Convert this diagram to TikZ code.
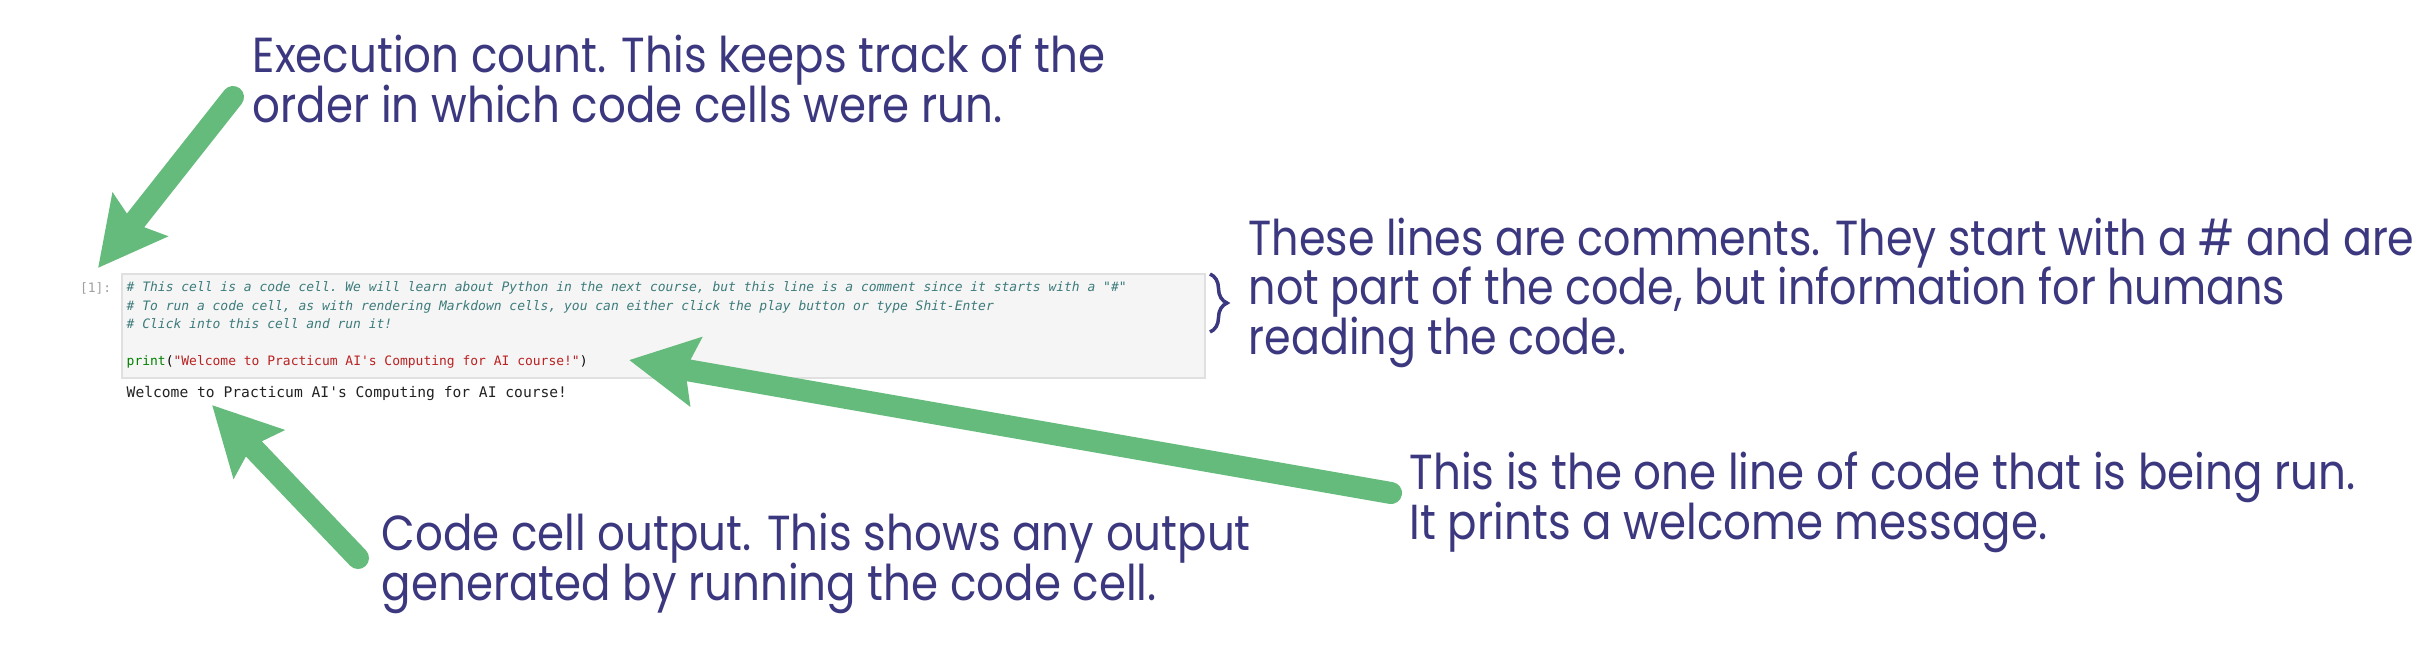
\documentclass[tikz,border=0pt]{standalone}
\usepackage{fontspec}
\setmainfont{Poppins}[FakeStretch=0.885]
\newfontfamily\tnarrow{Poppins}[FakeStretch=0.87]
\setmonofont{DejaVu Sans Mono}
\usetikzlibrary{arrows.meta,decorations.pathreplacing}
\definecolor{txt}{HTML}{3C3880}
\definecolor{grn}{HTML}{65BB7B}
\definecolor{cmt}{HTML}{3D7B7B}
\definecolor{kw}{HTML}{008000}
\definecolor{strc}{HTML}{BA2121}
\definecolor{cellbg}{HTML}{F5F5F5}
\definecolor{cellbd}{HTML}{E0E0E0}
\definecolor{prompt}{HTML}{A0A0A0}
\definecolor{outc}{HTML}{222222}
\newcommand\tightlines{\lineskiplimit=-50pt\relax\lineskip=0pt\relax}
\tikzset{
  note/.style={text=txt, font=\fontsize{14pt}{13.95pt}\selectfont\tightlines, align=left, anchor=base west, inner sep=0pt},
  pointer/.style={draw=grn, fill=grn, line width=0.22cm, line cap=round, -{Stealth[length=0.67cm,width=0.68cm,inset=0.1cm]}},
  codetxt/.style={font=\ttfamily\fontsize{3.69pt}{5.21pt}\selectfont\tightlines, align=left, anchor=base west, inner sep=0pt},
  cellbox/.style={fill=cellbg, draw=cellbd, line width=0.02cm, inner sep=0pt},
}
\begin{document}
\begin{tikzpicture}[x=0.01cm, y=-0.01cm]
\useasboundingbox[fill=white] (0,0) rectangle (2427,657);
\node[cellbox, anchor=north west, minimum width=10.82cm, minimum height=1.04cm] (cell) at (121,273) {};
\node[codetxt, text=prompt, anchor=base east] (count) at (112,292) {[1]:};
\node[codetxt] (code) at (126,365) {\textcolor{cmt}{\itshape \# This cell is a code cell. We will learn about Python in the next course, but this line is a comment since it starts with a "\#"}\\
\textcolor{cmt}{\itshape \# To run a code cell, as with rendering Markdown cells, you can either click the play button or type Shit-Enter}\\
\textcolor{cmt}{\itshape \# Click into this cell and run it!}\\
\mbox{}\\
\textcolor{kw}{print}(\textcolor{strc}{"Welcome to Practicum AI's Computing for AI course!"})};
\node[codetxt, text=outc, font=\ttfamily\fontsize{4.16pt}{5.21pt}\selectfont] (out) at (126,397) {Welcome to Practicum AI's Computing for AI course!};
\node[note] (t1) at (252,122) {Execution count. This keeps track of the\\order in which code cells were run.};
\node[note, font=\tnarrow\fontsize{14pt}{13.95pt}\selectfont\tightlines] (t2) at (1248,354) {These lines are comments. They start with a \# and are\\not part of the code, but information for humans\\reading the code.};
\node[note] (t3) at (1409,539) {This is the one line of code that is being run.\\It prints a welcome message.};
\node[note] (t4) at (381,600) {Code cell output. This shows any output\\generated by running the code cell.};
\draw[txt, line width=0.035cm, decorate, decoration={brace, amplitude=0.17cm}] (1210,274) -- (1210,332);
\coordinate (a1s) at (233,97);
\coordinate (a1e) at (98,268);
\coordinate (a2s) at (1391,493);
\coordinate (a2e) at (629,360);
\coordinate (a3s) at (358,558);
\coordinate (a3e) at (212,405);
\draw[pointer] (a1s) -- (a1e);
\draw[pointer] (a2s) -- (a2e);
\draw[pointer] (a3s) -- (a3e);
\end{tikzpicture}
\end{document}
